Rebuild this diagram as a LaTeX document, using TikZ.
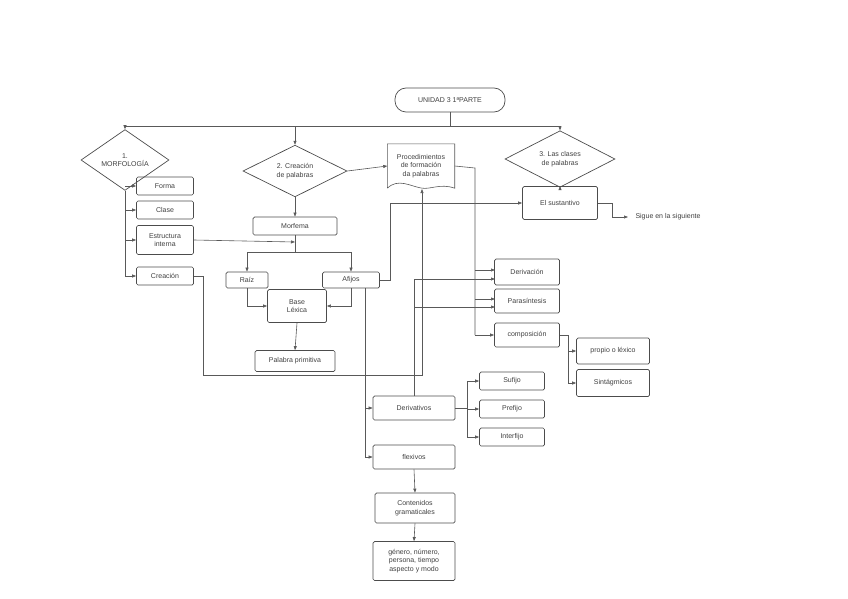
\documentclass[tikz,border=0pt]{standalone}
\usepackage{fontspec}
\setmainfont{Liberation Sans}
\usetikzlibrary{shapes.geometric,arrows.meta}
\begin{document}
\begin{tikzpicture}[x=1pt,y=-1pt,
  every node/.style={font=\fontsize{7}{8.5}\selectfont,text=black!75,align=center,inner sep=1pt},
  box/.style={draw=black!70,rounded corners=1.5pt,line width=0.7pt},
  dia/.style={draw=black!70,diamond,aspect=2.3,line width=0.7pt,inner sep=0pt},
  ln/.style={draw=black!65,line width=0.6pt},
  ar/.style={ln,-{Triangle[length=4pt,width=3pt]}}]
\useasboundingbox (0,0) rectangle (848,599);
\node[box,rounded corners=11pt,minimum width=110pt,minimum height=24pt] (u) at (450,100) {UNIDAD 3 1ªPARTE};
\node[draw=black!70,line width=0.7pt,diamond,minimum width=88pt,minimum height=33pt,inner sep=0pt] (m) at (125,160) {1.\\MORFOLOGÍA};
\node[draw=black!70,line width=0.7pt,diamond,minimum width=104pt,minimum height=46pt,inner sep=0pt] (c) at (295,171) {2. Creación\\de palabras};
\node[draw=black!70,line width=0.7pt,diamond,minimum width=110pt,minimum height=46pt,inner sep=0pt] (k) at (560,159) {3. Las clases\\de palabras};
\node[minimum width=67pt,minimum height=44pt] (p) at (421,166) {Procedimientos\\de formación\\da palabras};
\draw[ln] (p.south west) -- (p.north west) -- (p.north east) -- (p.south east)
  .. controls (440,183) and (430,190) .. (421,188) .. controls (410,186) and (398,178) .. (p.south west);
\node[box,minimum width=75pt,minimum height=33pt] (s) at (560,203) {El sustantivo};
\node (sg) at (668,217) {Sigue en la siguiente};
\coordinate (sgw) at (628,217);
\node[box,minimum width=57pt,minimum height=18pt] (fo) at (165,186) {Forma};
\node[box,minimum width=57pt,minimum height=18pt] (cl) at (165,210) {Clase};
\node[box,minimum width=57pt,minimum height=29pt] (ei) at (165,240) {Estructura\\interna};
\node[box,minimum width=57pt,minimum height=18pt] (cr) at (165,276) {Creación};
\node[box,minimum width=84pt,minimum height=18pt] (mo) at (295,226) {Morfema};
\node[box,minimum width=42pt,minimum height=16pt] (ra) at (247,280) {Raíz};
\node[box,minimum width=57pt,minimum height=16pt] (af) at (351,280) {Afijos};
\node[box,minimum width=59pt,minimum height=33pt] (bl) at (297,306) {Base\\Léxica};
\node[box,minimum width=80pt,minimum height=21pt] (pp) at (295,361) {Palabra primitiva};
\node[box,minimum width=65pt,minimum height=26pt] (de) at (527,272) {Derivación};
\node[box,minimum width=65pt,minimum height=24pt] (pa) at (527,301) {Parasíntesis};
\node[box,minimum width=65pt,minimum height=24pt] (co) at (527,335) {composición};
\node[box,minimum width=73pt,minimum height=26pt] (pr) at (613,351) {propio o léxico};
\node[box,minimum width=73pt,minimum height=27pt] (si) at (613,383) {Sintágmicos};
\node[box,minimum width=82pt,minimum height=24pt] (dv) at (414,408) {Derivativos};
\node[box,minimum width=82pt,minimum height=24pt] (fl) at (414,457) {flexivos};
\node[box,minimum width=65pt,minimum height=18pt] (su) at (512,381) {Sufijo};
\node[box,minimum width=65pt,minimum height=18pt] (pf) at (512,409) {Prefijo};
\node[box,minimum width=65pt,minimum height=18pt] (in) at (512,437) {Interfijo};
\node[box,minimum width=80pt,minimum height=30pt] (ct) at (415,508) {Contenidos\\gramaticales};
\node[box,minimum width=82pt,minimum height=39pt] (ge) at (414,561) {género, número,\\persona, tiempo\\aspecto y modo};
% top branches
\draw[ln] (u.south) -- (450,126);
\draw[ar] (450,126) -| (m.north);
\draw[ar] (450,126) -| (c.north);
\draw[ar] (450,126) -| (k.north);
% morfologia
\draw[ln] (m.south) -- (125,276);
\foreach \n in {fo,cl,ei,cr} \draw[ar] (125,0 |- \n.west) -- (\n.west);
\draw[ar] (ei.east) -- (295,242);
\draw[ar] (c.east) -- (p.west);
\draw[ar] (c.south) -- (mo.north);
\draw[ln] (mo.south) -- (295,252);
\draw[ar] (295,252) -| (ra.north);
\draw[ar] (295,252) -| (af.north);
\draw[ar] (ra.south) |- (bl.west);
\draw[ar] (af.south) |- (bl.east);
\draw[ar] (bl.south) -- (pp.north);
\draw[ar] (cr.east) -- (203,276) -- (203,375) -- (422,375) -- (422,189);
\draw[ar] (af.east) -- (390,280) -- (390,203) -- (s.west);
\draw[ln] (s.east) -- (612,203) -- (612,217);
\draw[ar] (612,217) -- (sgw);
\draw[ar] (k.south) -- (s.north);
% procedimientos
\draw[ln] (p.east) -- (475,168) -- (475,335);
\draw[ar] (475,270) -- (495,270);
\draw[ar] (475,299) -- (495,299);
\draw[ar] (475,335) -- (co.west);
\draw[ln] (dv.north) -- (414,279);
\draw[ar] (414,279) -- (495,279);
\draw[ar] (414,307) -- (495,307);
\draw[ln] (co.east) -- (568,335) -- (568,383);
\draw[ar] (568,351) -- (pr.west);
\draw[ar] (568,383) -- (si.west);
% afijos down
\draw[ln] (365,288) -- (365,457);
\draw[ar] (365,408) -- (dv.west);
\draw[ar] (365,457) -- (fl.west);
\draw[ln] (dv.east) -- (467,408);
\draw[ln] (467,381) -- (467,437);
\draw[ar] (467,381) -- (su.west);
\draw[ar] (467,409) -- (pf.west);
\draw[ar] (467,437) -- (in.west);
\draw[ar] (fl.south) -- (ct.north);
\draw[ar] (ct.south) -- (ge.north);
\end{tikzpicture}
\end{document}
